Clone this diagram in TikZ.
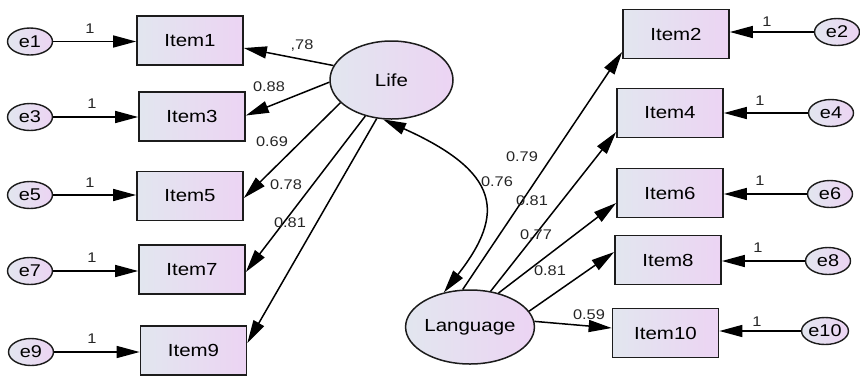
\documentclass[tikz,border=0pt]{standalone}
\usepackage{fontspec}
\setmainfont{Liberation Sans}[FakeStretch=1.17]
\usetikzlibrary{arrows.meta,shapes.geometric}
\definecolor{fillA}{RGB}{226,230,239}
\definecolor{fillB}{RGB}{236,212,243}
\definecolor{edgeC}{RGB}{28,28,28}
\begin{document}
\begin{tikzpicture}[x=1pt,y=-1pt,
  shaded/.style={draw=edgeC,left color=fillA,right color=fillB,inner sep=0pt},
  obs/.style={shaded,line width=1.7pt,minimum width=106pt,minimum height=49pt,
    font=\fontsize{17.5}{17.5}\selectfont},
  err/.style={shaded,ellipse,line width=1.4pt,minimum width=45pt,minimum height=27pt,
    font=\fontsize{17}{17}\selectfont},
  latent/.style={shaded,ellipse,line width=1.5pt,font=\fontsize{17.5}{17.5}\selectfont},
  load/.style={line width=1.5pt,draw=black,-{Triangle[length=23pt,width=12pt]}},
  coef/.style={font=\fontsize{14}{14}\selectfont,text=black!85,inner sep=0pt}
]
\useasboundingbox (0,0) rectangle (860,376);

% latent factors
\node[latent,minimum width=123pt,minimum height=78pt] (life) at (391.5,80) {Life};
\node[latent,minimum width=124pt,minimum height=74pt] (lang) at (470,327) {Language};

% indicators of Life
\node[obs] (item1) at (190,40.5) {Item1};
\node[obs] (item3) at (192,116.5) {Item3};
\node[obs] (item5) at (190,196) {Item5};
\node[obs] (item7) at (192,269.5) {Item7};
\node[obs] (item9) at (193.5,350.5) {Item9};

% indicators of Language
\node[obs] (item2) at (676,34) {Item2};
\node[obs] (item4) at (670,113) {Item4};
\node[obs] (item6) at (670,193) {Item6};
\node[obs] (item8) at (668,260) {Item8};
\node[obs] (item10) at (665.5,333) {Item10};

% error terms
\node[err] (e1) at (30,41.5) {e1};
\node[err] (e3) at (30,117) {e3};
\node[err] (e5) at (30,195) {e5};
\node[err] (e7) at (30,271) {e7};
\node[err] (e9) at (31,352) {e9};
\node[err] (e2) at (837,32) {e2};
\node[err] (e4) at (831,113) {e4};
\node[err] (e6) at (830,194) {e6};
\node[err] (e8) at (828,261) {e8};
\node[err] (e10) at (825,331) {e10};

% error paths
\draw[load] (e1) -- (e1 -| item1.west);
\draw[load] (e3) -- (e3 -| item3.west);
\draw[load] (e5) -- (e5 -| item5.west);
\draw[load] (e7) -- (e7 -| item7.west);
\draw[load] (e9) -- (e9 -| item9.west);
\draw[load] (e2) -- (e2 -| item2.east);
\draw[load] (e4) -- (e4 -| item4.east);
\draw[load] (e6) -- (e6 -| item6.east);
\draw[load] (e8) -- (e8 -| item8.east);
\draw[load] (e10) -- (e10 -| item10.east);

\node[coef] (w1) at (90,29) {1};
\node[coef] (w3) at (92,104) {1};
\node[coef] (w5) at (90,183) {1};
\node[coef] (w7) at (92,258) {1};
\node[coef] (w9) at (92,339) {1};
\node[coef] (w2) at (767,22) {1};
\node[coef] (w4) at (760,101) {1};
\node[coef] (w6) at (760,181) {1};
\node[coef] (w8) at (758,248) {1};
\node[coef] (w10) at (757,322) {1};

% loadings of Life
\draw[load] (life.166) -- ([yshift=-7.5pt]item1.east);
\draw[load] (life.182) -- ([yshift=1pt]item3.east);
\draw[load] (life.204) -- ([yshift=-2pt]item5.east);
\draw[load] (life.234) -- ([yshift=-2.5pt]item7.east);
\draw[load] (life.249) -- ([yshift=7.5pt]item9.east);

% loadings of Language
\draw[load] (lang.101) -- ([yshift=-18pt]item2.west);
\draw[load] (lang.60) -- ([yshift=-19pt]item4.west);
\draw[load] (lang.50) -- ([yshift=-10pt]item6.west);
\draw[load] (lang.15) -- ([yshift=8pt]item8.west);
\draw[load] (lang.5) -- ([yshift=5pt]item10.west);

% covariance between the factors
\draw[line width=1.5pt,{Triangle[length=23pt,width=12pt]}-{Triangle[length=23pt,width=12pt]}]
  (life.258) .. controls (500,172) and (506,213) .. (lang.127);

% estimates
\node[coef] (c1) at (302,46) {,78};
\node[coef] (c3) at (269,87) {0.88};
\node[coef] (c5) at (272,142) {0.69};
\node[coef] (c7) at (286,185) {0.78};
\node[coef] (c9) at (290,223) {0.81};
\node[coef] (c2) at (522,157) {0.79};
\node[coef] (cv) at (497,182) {0.76};
\node[coef] (c4) at (532,201) {0.81};
\node[coef] (c6) at (536,235) {0.77};
\node[coef] (c8) at (550,271) {0.81};
\node[coef] (c10) at (589,315) {0.59};
\end{tikzpicture}
\end{document}
